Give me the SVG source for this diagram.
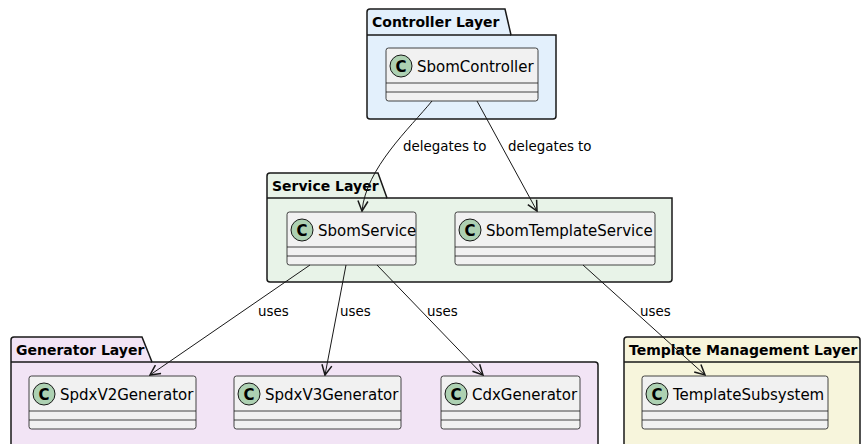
<svg xmlns="http://www.w3.org/2000/svg" width="861" height="444" viewBox="0 0 861 444">
  <defs>
    <style>
      .pkg { stroke: #181818; stroke-width: 1.5; }
      .pkg-title { font-family: "DejaVu Sans", sans-serif; font-weight: bold; font-size: 14px; fill: #000; }
      .cls { fill: #F1F1F1; stroke: #181818; stroke-width: 0.8; }
      .sep { stroke: #181818; stroke-width: 0.8; }
      .badge { fill: #ADD1B2; stroke: #181818; stroke-width: 1; }
      .badge-c { font-family: "DejaVu Sans", sans-serif; font-weight: bold; font-size: 15px; fill: #000; text-anchor: middle; }
      .cls-name { font-family: "DejaVu Sans", sans-serif; font-size: 15px; fill: #000; }
      .edge { fill: none; stroke: #181818; stroke-width: 1; }
      .edge-label { font-family: "DejaVu Sans", sans-serif; font-size: 13.4px; fill: #000; }
    </style>
    <marker id="arrow" viewBox="0 0 12 12" refX="11" refY="6" markerWidth="12" markerHeight="12" markerUnits="userSpaceOnUse" orient="auto">
      <path d="M1,1 L11,6 L1,11" fill="none" stroke="#181818" stroke-width="1.5"/>
    </marker>
  </defs>

  <!-- packages -->
  <g id="pkg-controller">
    <path class="pkg" fill="#E3F0FC" d="M367,35 L367,12 Q367,9 370,9 L505,9 L511,35 L556,35 L556,116 Q556,119 553,119 L370,119 Q367,119 367,116 Z"/>
    <line class="pkg" x1="367" y1="35" x2="511" y2="35"/>
    <text class="pkg-title" x="372" y="27">Controller Layer</text>
  </g>
  <g id="pkg-service">
    <path class="pkg" fill="#E8F3E8" d="M267,198 L267,176 Q267,173 270,173 L378,173 L387,198 L672,198 L672,279 Q672,282 669,282 L270,282 Q267,282 267,279 Z"/>
    <line class="pkg" x1="267" y1="198" x2="387" y2="198"/>
    <text class="pkg-title" x="272" y="191">Service Layer</text>
  </g>
  <g id="pkg-generator">
    <path class="pkg" fill="#F2E4F5" d="M11,362 L11,340 Q11,337 14,337 L142,337 L152,362 L595,362 Q598,362 598,365 L598,460 L11,460 Z"/>
    <line class="pkg" x1="11" y1="362" x2="152" y2="362"/>
    <text class="pkg-title" x="16" y="355">Generator Layer</text>
  </g>
  <g id="pkg-template">
    <path class="pkg" fill="#F7F5DC" d="M624,362 L624,340 Q624,337 627,337 L857,337 Q860,337 860,340 L860,460 L624,460 Z"/>
    <line class="pkg" x1="624" y1="362" x2="860" y2="362"/>
    <text class="pkg-title" x="629" y="355">Template Management Layer</text>
  </g>

  <!-- classes -->
  <g id="SbomController">
    <rect class="cls" x="386" y="48" width="152" height="53" rx="2.5"/>
    <line class="sep" x1="386" y1="83" x2="538" y2="83"/>
    <line class="sep" x1="386" y1="92" x2="538" y2="92"/>
    <circle class="badge" cx="401" cy="66" r="11"/>
    <text class="badge-c" x="401" y="71.5">C</text>
    <text class="cls-name" x="417" y="72">SbomController</text>
  </g>
  <g id="SbomService">
    <rect class="cls" x="287" y="212" width="129" height="53" rx="2.5"/>
    <line class="sep" x1="287" y1="247" x2="416" y2="247"/>
    <line class="sep" x1="287" y1="256" x2="416" y2="256"/>
    <circle class="badge" cx="302" cy="230" r="11"/>
    <text class="badge-c" x="302" y="235.5">C</text>
    <text class="cls-name" x="318" y="236">SbomService</text>
  </g>
  <g id="SbomTemplateService">
    <rect class="cls" x="455" y="212" width="200" height="53" rx="2.5"/>
    <line class="sep" x1="455" y1="247" x2="655" y2="247"/>
    <line class="sep" x1="455" y1="256" x2="655" y2="256"/>
    <circle class="badge" cx="470" cy="230" r="11"/>
    <text class="badge-c" x="470" y="235.5">C</text>
    <text class="cls-name" x="486" y="236">SbomTemplateService</text>
  </g>
  <g id="SpdxV2Generator">
    <rect class="cls" x="29" y="376" width="167" height="53" rx="2.5"/>
    <line class="sep" x1="29" y1="411" x2="196" y2="411"/>
    <line class="sep" x1="29" y1="420" x2="196" y2="420"/>
    <circle class="badge" cx="44" cy="394" r="11"/>
    <text class="badge-c" x="44" y="399.5">C</text>
    <text class="cls-name" x="60" y="400">SpdxV2Generator</text>
  </g>
  <g id="SpdxV3Generator">
    <rect class="cls" x="234" y="376" width="167" height="53" rx="2.5"/>
    <line class="sep" x1="234" y1="411" x2="401" y2="411"/>
    <line class="sep" x1="234" y1="420" x2="401" y2="420"/>
    <circle class="badge" cx="249" cy="394" r="11"/>
    <text class="badge-c" x="249" y="399.5">C</text>
    <text class="cls-name" x="265" y="400">SpdxV3Generator</text>
  </g>
  <g id="CdxGenerator">
    <rect class="cls" x="441" y="376" width="139" height="53" rx="2.5"/>
    <line class="sep" x1="441" y1="411" x2="580" y2="411"/>
    <line class="sep" x1="441" y1="420" x2="580" y2="420"/>
    <circle class="badge" cx="456" cy="394" r="11"/>
    <text class="badge-c" x="456" y="399.5">C</text>
    <text class="cls-name" x="472" y="400">CdxGenerator</text>
  </g>
  <g id="TemplateSubsystem">
    <rect class="cls" x="642" y="376" width="186" height="53" rx="2.5"/>
    <line class="sep" x1="642" y1="411" x2="828" y2="411"/>
    <line class="sep" x1="642" y1="420" x2="828" y2="420"/>
    <circle class="badge" cx="657" cy="394" r="11"/>
    <text class="badge-c" x="657" y="399.5">C</text>
    <text class="cls-name" x="673" y="400">TemplateSubsystem</text>
  </g>

  <!-- connectors -->
  <g id="connectors">
    <path class="edge" marker-end="url(#arrow)" d="M432,101 C410,128 366,168 362,211"/>
    <path class="edge" marker-end="url(#arrow)" d="M477,101 L537,211"/>
    <path class="edge" marker-end="url(#arrow)" d="M310,265 L150,375"/>
    <path class="edge" marker-end="url(#arrow)" d="M346,265 L325,375"/>
    <path class="edge" marker-end="url(#arrow)" d="M377,265 L483,375"/>
    <path class="edge" marker-end="url(#arrow)" d="M583,265 L705,375"/>
    <text class="edge-label" x="403" y="151">delegates to</text>
    <text class="edge-label" x="508" y="151">delegates to</text>
    <text class="edge-label" x="258" y="316">uses</text>
    <text class="edge-label" x="340" y="316">uses</text>
    <text class="edge-label" x="427" y="316">uses</text>
    <text class="edge-label" x="640" y="316">uses</text>
  </g>
</svg>
